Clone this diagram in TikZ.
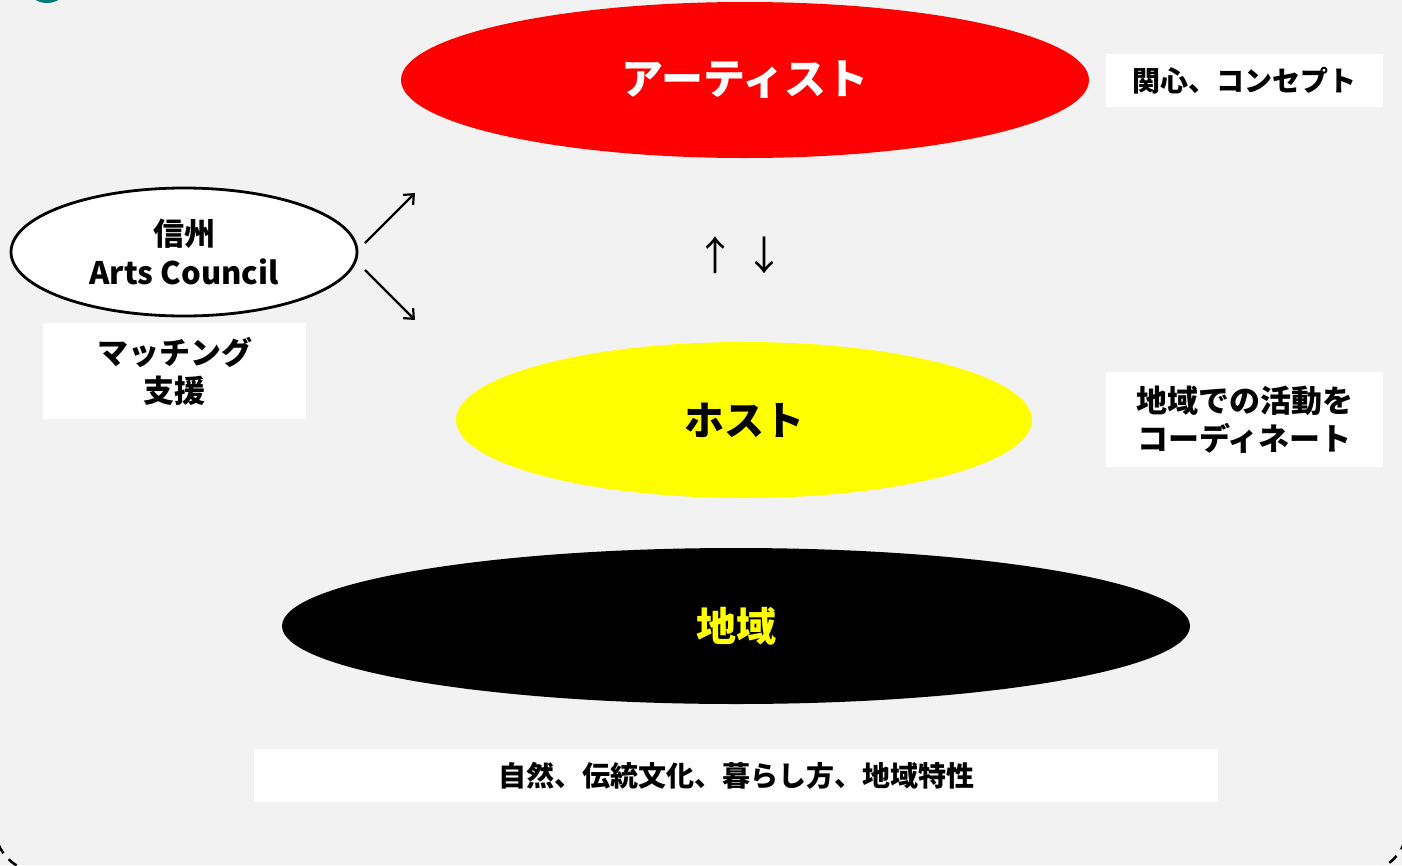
\documentclass[tikz,border=0pt]{standalone}
\usepackage{fontspec}
\setmainfont{Noto Sans CJK JP}
\usetikzlibrary{shapes.geometric,arrows.meta}
\definecolor{bg}{HTML}{F2F2F2}
\definecolor{teal2}{HTML}{007A78}
\definecolor{pyellow}{HTML}{FFFF00}
\definecolor{pred}{HTML}{FF0000}
\tikzset{
  ell/.style={ellipse, inner sep=0pt, font=\bfseries},
  wbox/.style={fill=white, inner sep=0pt, align=center, font=\bfseries},
  arr/.style={line width=2.2pt, -{Straight Barb[length=8pt,width=14pt,line width=2.2pt]}},
}
\begin{document}
\begin{tikzpicture}[x=1pt,y=-1pt]
\useasboundingbox (0,0) rectangle (1402,865);
\clip (0,0) rectangle (1402,865);
\fill[bg] (0,0) rectangle (1402,865);
\draw[line width=2.5pt, dash pattern=on 10pt off 8pt, rounded corners=45pt] (-5,-100) rectangle (1407,872);
\fill[teal2] (47,-19) ellipse [x radius=23pt, y radius=22pt];

% main ellipses
\node[ell, fill=pred, minimum width=688pt, minimum height=156pt, text=white, font=\bfseries\fontsize{42}{46}\selectfont] (artist) at (745,80) {アーティスト};
\node[ell, fill=pyellow, minimum width=576pt, minimum height=156pt, text=black, font=\bfseries\fontsize{40}{44}\selectfont] (host) at (744,420) {ホスト};
\node[ell, fill=black, minimum width=908pt, minimum height=156pt, text=pyellow, font=\bfseries\fontsize{40}{44}\selectfont] (region) at (736,626) {地域};

% Arts council
\node[ell, draw=black, line width=2.8pt, fill=white, minimum width=346pt, minimum height=128pt, align=center, font=\bfseries\fontsize{31}{41}\selectfont] (ac) at (184,252) {信州\\[-2pt]Arts Council};

% boxes
\node[wbox, minimum width=277pt, minimum height=53pt, font=\bfseries\fontsize{28}{38}\selectfont] (b1) at (1244.5,80.5) {関心、コンセプト};
\node[wbox, minimum width=277pt, minimum height=95pt, font=\bfseries\fontsize{31}{38}\selectfont] (b2) at (1244.5,419.5) {地域での活動を\\コーディネート};
\node[wbox, minimum width=263pt, minimum height=96pt, font=\bfseries\fontsize{31}{38}\selectfont] (b3) at (174.5,371) {マッチング\\支援};
\node[wbox, minimum width=964pt, minimum height=53pt, font=\bfseries\fontsize{28}{38}\selectfont] (b4) at (736,775.5) {自然、伝統文化、暮らし方、地域特性};

% up/down arrows text
\node[inner sep=0pt, font=\fontsize{40}{44}\selectfont] (ud) at (740,255) {↑ ↓};

% arrows from Arts Council
\coordinate (s1) at (365,243);
\coordinate (e1) at (415,193);
\coordinate (s2) at (365,270);
\coordinate (e2) at (415,320);
\draw[arr] (s1) -- (e1);
\draw[arr] (s2) -- (e2);
\end{tikzpicture}
\end{document}
